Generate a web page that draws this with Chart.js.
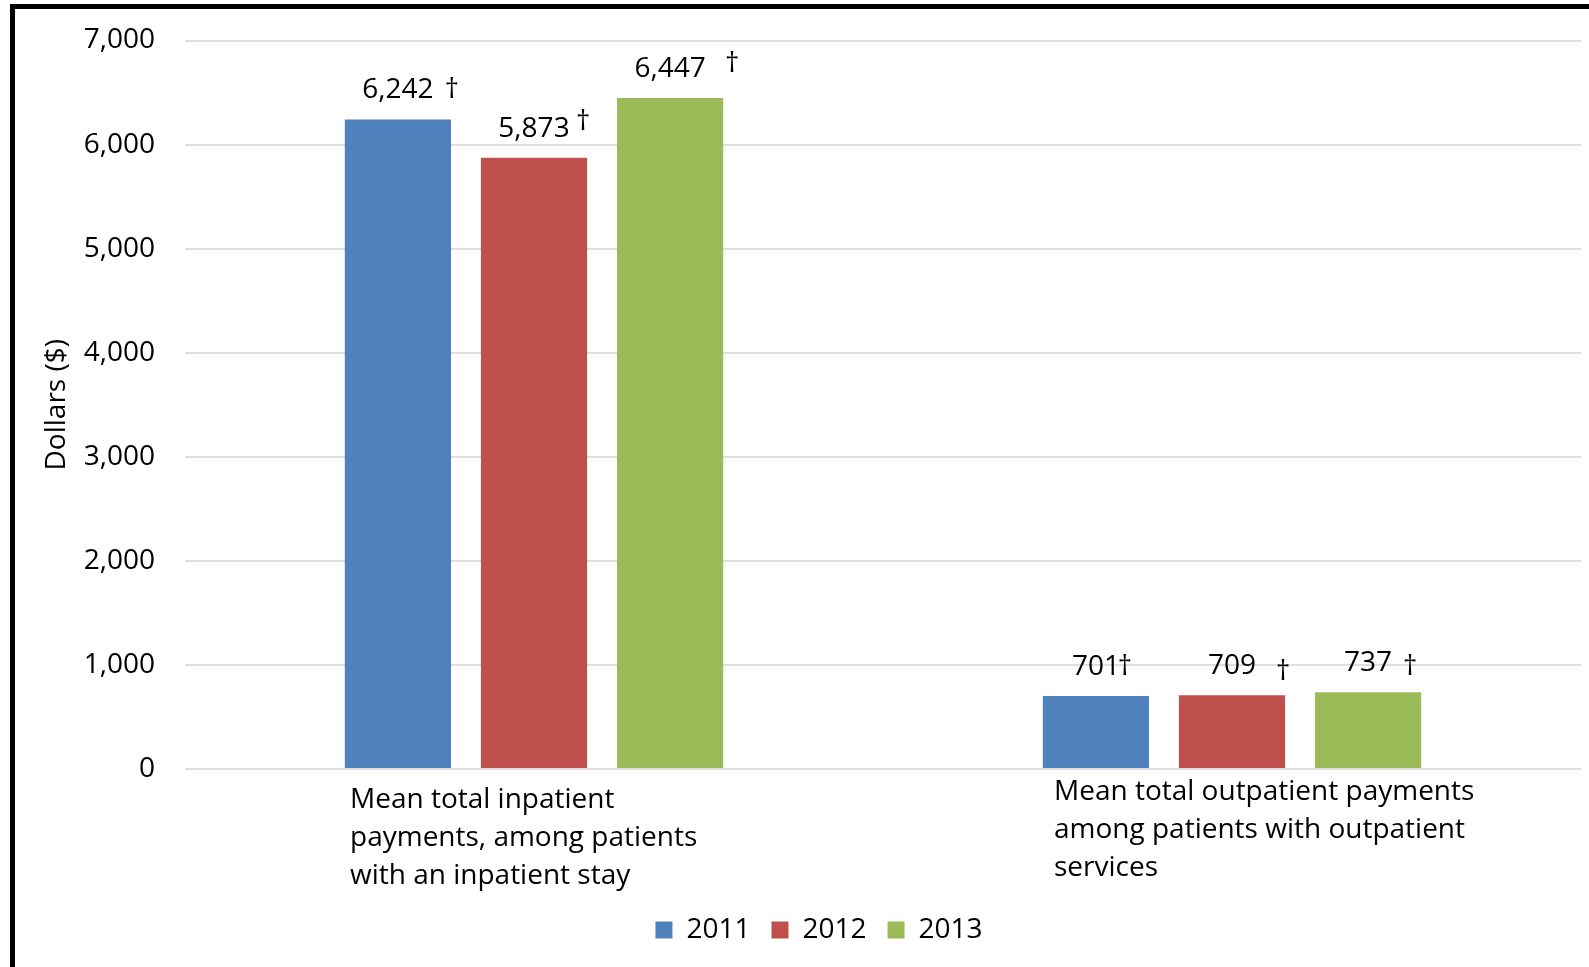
<!DOCTYPE html>
<html>
<head>
<meta charset="utf-8">
<script src="https://cdn.jsdelivr.net/npm/chart.js@4"></script>
<style>
  html, body { margin: 0; padding: 0; background: #fff; }
  #moldura {
    position: absolute; left: 10px; top: 4px;
    width: 1574px; height: 958px;
    border-left: 5px solid #000; border-top: 5px solid #000;
  }
  canvas { display: block; }
</style>
</head>
<body>
<div id="moldura"><canvas id="myChart" width="1574" height="958"></canvas></div>
<script>
const categorias = [
  ['Mean total inpatient', 'payments, among patients', 'with an inpatient stay'],
  ['Mean total outpatient payments', 'among patients with outpatient', 'services']
];
const anos = ['2011', '2012', '2013'];
const valores2011 = [6242, 701];
const valores2012 = [5873, 709];
const valores2013 = [6447, 737];
const cores = ['#4F81BD', '#C0504D', '#9BBB59'];
const marcaSignificancia = '\u2020';

// ajuste manual de onde cai o "†" em cada rotulo (dx, dy) por serie/categoria
const ajusteAdaga = [
  [[54, 0], [29, 0]],
  [[49, -7], [51, 6]],
  [[62, -5], [42, 4]]
];
// ajuste dos rotulos de categoria (dx a partir do centro, y da primeira linha)
const ajusteCategoria = [[-184, 31], [-178, 23]];

const fonte = "'Open Sans', sans-serif";
const tamFonte = 28;

const ctx = document.getElementById('myChart').getContext('2d');

const rotulosValores = {
  id: 'rotulosValores',
  afterDatasetsDraw(chart) {
    const c = chart.ctx;
    c.save();
    c.fillStyle = '#000';
    c.font = `${tamFonte}px ${fonte}`;
    c.textBaseline = 'middle';
    chart.data.datasets.forEach((ds, i) => {
      const meta = chart.getDatasetMeta(i);
      meta.data.forEach((bar, j) => {
        const y = bar.y - 29;
        c.textAlign = 'center';
        c.fillText(ds.data[j].toLocaleString('en-US'), bar.x, y);
        const [dx, dy] = ajusteAdaga[i][j];
        c.fillText(marcaSignificancia, bar.x + dx, y + dy);
      });
    });
    c.restore();
  }
};

const rotulosCategorias = {
  id: 'rotulosCategorias',
  afterDraw(chart) {
    const c = chart.ctx;
    const xScale = chart.scales.x;
    c.save();
    c.fillStyle = '#000';
    c.font = `${tamFonte}px ${fonte}`;
    c.textAlign = 'left';
    c.textBaseline = 'middle';
    categorias.forEach((linhas, i) => {
      const cx = xScale.getPixelForValue(i);
      const [dx, y0] = ajusteCategoria[i];
      linhas.forEach((linha, k) => {
        c.fillText(linha, cx + dx, chart.chartArea.bottom + y0 + k * 38);
      });
    });
    c.restore();
  }
};

new Chart(ctx, {
  type: 'bar',
  data: {
    labels: categorias.map(l => l.join(' ')),
    datasets: [
      { label: anos[0], data: valores2011, backgroundColor: cores[0] },
      { label: anos[1], data: valores2012, backgroundColor: cores[1] },
      { label: anos[2], data: valores2013, backgroundColor: cores[2] }
    ]
  },
  options: {
    responsive: false,
    animation: false,
    categoryPercentage: 0.585,
    barPercentage: 0.78,
    layout: { padding: { left: 42, right: 8, top: 31.5, bottom: 13 } },
    plugins: {
      tooltip: { enabled: false },
      legend: {
        position: 'bottom',
        labels: {
          color: '#000',
          font: { family: fonte, size: tamFonte },
          boxWidth: 17,
          boxHeight: 17,
          padding: 21
        }
      }
    },
    scales: {
      x: {
        grid: { display: false },
        border: { display: false },
        ticks: { display: false },
        afterFit(scale) { scale.height = 126; }
      },
      y: {
        min: 0,
        max: 7000,
        ticks: {
          stepSize: 1000,
          color: '#000',
          padding: 0,
          font: { family: fonte, size: tamFonte },
          callback: v => v.toLocaleString('en-US')
        },
        grid: {
          color: '#dedede',
          lineWidth: 2,
          drawTicks: true,
          tickLength: 30,
          tickColor: 'rgba(0,0,0,0)'
        },
        border: { display: false },
        title: {
          display: true,
          text: 'Dollars ($)',
          color: '#000',
          font: { family: fonte, size: tamFonte },
          padding: { top: -17, bottom: 0 }
        },
        afterFit(scale) { scale.width = 128; }
      }
    }
  },
  plugins: [rotulosValores, rotulosCategorias]
});
</script>
</body>
</html>
